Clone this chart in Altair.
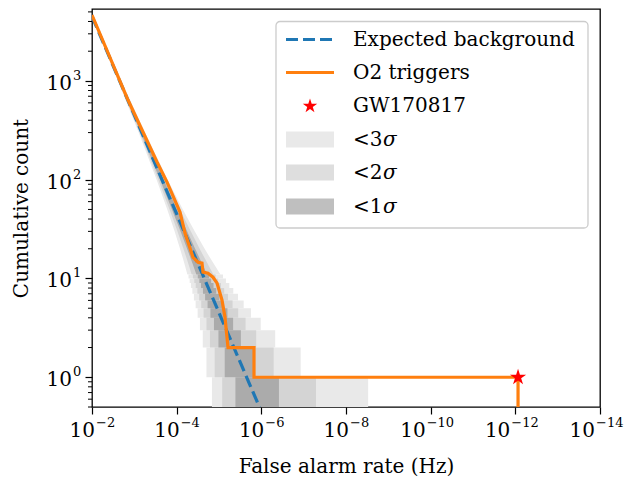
import altair as alt
import pandas as pd

# ---------------- data ----------------
x_tick_values = [1e-2, 1e-4, 1e-6, 1e-8, 1e-10, 1e-12, 1e-14]
x_tick_exponents = ["−2", "−4", "−6", "−8", "−10", "−12", "−14"]
y_major_ticks = [1, 10, 100, 1000]
y_tick_exponents = ["0", "1", "2", "3"]
y_minor_ticks = [0.5, 0.6, 0.7, 0.8, 0.9, 2, 3, 4, 5, 6, 7, 8, 9,
                 20, 30, 40, 50, 60, 70, 80, 90,
                 200, 300, 400, 500, 600, 700, 800, 900,
                 2000, 3000, 4000, 5000]

# expected background (straight line in log-log)
background_far = [1e-2, 1e-7]
background_count = [4500, 0.045]

# O2 triggers (cumulative count vs false alarm rate)
trigger_far = [1e-2, 1.41e-3, 2.91e-4, 1.69e-4, 8.34e-5, 6.35e-5, 4.11e-5,
               3.13e-5, 2.52e-5, 2.39e-5, 1.82e-5, 1.39e-5, 1.11e-5, 8.49e-6,
               7.22e-6, 6.12e-6, 1.49e-6, 1.49e-6, 8.63e-13, 8.63e-13]
trigger_count = [4650, 641, 151, 94.6, 47.0, 28.8, 16.4, 14.6, 14.3, 11.6,
                 11.3, 10.3, 8.96, 6.03, 4.05, 2.0, 2.0, 1.0, 1.0, 0.1]

# GW170817
gw_far = [8.63e-13]
gw_count = [1]

# sigma bands, low counts: one row per count
row_count_lo = [0.5, 1, 2, 3, 4, 5, 6, 7, 8, 9, 10]
row_count_hi = [1, 2, 3, 4, 5, 6, 7, 8, 9, 10, 11]
s3_left = [1.468e-5, 1.978e-5, 2.416e-5, 2.818e-5, 3.198e-5, 3.562e-5, 3.916e-5, 4.26e-5, 4.60e-5, 4.93e-5, 5.25e-5]
s2_left = [8.41e-6, 1.263e-5, 1.633e-5, 1.978e-5, 2.309e-5, 2.627e-5, 2.938e-5, 3.242e-5, 3.542e-5, 3.838e-5, 4.129e-5]
s1_left = [4.09e-6, 7.33e-6, 1.031e-5, 1.315e-5, 1.592e-5, 1.863e-5, 2.130e-5, 2.393e-5, 2.656e-5, 2.913e-5, 3.171e-5]
s1_right = [3.84e-7, 1.573e-6, 3.04e-6, 4.64e-6, 6.31e-6, 8.04e-6, 9.82e-6, 1.163e-5, 1.346e-5, 1.531e-5, 1.719e-5]
s2_right = [5.11e-8, 5.11e-7, 1.324e-6, 2.351e-6, 3.52e-6, 4.78e-6, 6.13e-6, 7.54e-6, 8.99e-6, 1.049e-5, 1.202e-5]
s3_right = [3.00e-9, 1.176e-7, 4.71e-7, 1.033e-6, 1.760e-6, 2.611e-6, 3.56e-6, 4.60e-6, 5.70e-6, 6.85e-6, 8.06e-6]

# sigma bands, high counts (narrow, drawn as smooth areas)
band_count = [11, 15, 20, 30, 50, 100, 300, 1000, 5000]
a3_left = [5.584e-5, 6.829e-5, 8.327e-5, 1.1204e-4, 1.6696e-4, 2.973e-4, 7.904e-4, 2.441e-3, 1.1587e-2]
a2_left = [4.418e-5, 5.547e-5, 6.918e-5, 9.578e-5, 1.4724e-4, 2.713e-4, 7.482e-4, 2.367e-3, 1.1427e-2]
a1_left = [3.424e-5, 4.433e-5, 5.676e-5, 8.118e-5, 1.2913e-4, 2.467e-4, 7.076e-4, 2.295e-3, 1.1271e-2]
a1_right = [1.909e-5, 2.678e-5, 3.658e-5, 5.660e-5, 9.751e-5, 2.022e-4, 6.304e-4, 2.154e-3, 1.0956e-2]
a2_right = [1.357e-5, 2.007e-5, 2.858e-5, 4.642e-5, 8.387e-5, 1.820e-4, 5.940e-4, 2.086e-3, 1.0802e-2]
a3_right = [9.23e-6, 1.459e-5, 2.185e-5, 3.753e-5, 7.153e-5, 1.633e-4, 5.593e-4, 2.0196e-3, 1.0647e-2]

legend_labels = ["Expected background", "O2 triggers", "GW170817", "<3", "<2", "<1"]

# ---------------- styling ----------------
FONT = "DejaVu Serif"
FS = 20
EFS = 13
BLUE = "#1f77b4"
ORANGE = "#ff7f0e"
C3, C2, C1 = "#e9e9e9", "#d4d4d4", "#ababab"
L3, L2, L1 = "#e9e9e9", "#dedede", "#bfbfbf"
STAR = ("M0,-1L0.2245,-0.309L0.9511,-0.309L0.3633,0.118L0.5878,0.809L0,0.382"
        "L-0.5878,0.809L-0.3633,0.118L-0.9511,-0.309L-0.2245,-0.309Z")

xscale = alt.Scale(type="log", domain=[1e-14, 1e-2], reverse=True, nice=False)
yscale = alt.Scale(type="log", domain=[0.5, 5350], nice=False)

xaxis = alt.Axis(values=x_tick_values, labels=False,
                 title="False alarm rate (Hz)", grid=False, domain=False,
                 tickSize=7, tickWidth=1.2, tickColor="black",
                 titleFont=FONT, titleFontSize=FS, titleFontWeight="normal", titleColor="black",
                 titleX=254, titleY=59, titleBaseline="middle", titleAlign="center")
yaxis = alt.Axis(values=y_major_ticks, labels=False,
                 title="Cumulative count", grid=False, domain=False,
                 tickSize=7, tickWidth=1.2, tickColor="black",
                 titleFont=FONT, titleFontSize=FS, titleFontWeight="normal", titleColor="black",
                 titleX=-65, titleY=199, titleBaseline="alphabetic", titleAlign="center",
                 titleAngle=270)

rows_df = pd.DataFrame({"lo": row_count_lo, "hi": row_count_hi,
                        "s3l": s3_left, "s2l": s2_left, "s1l": s1_left,
                        "s1r": s1_right, "s2r": s2_right, "s3r": s3_right})
area_df = pd.DataFrame({"c": band_count, "a3l": a3_left, "a2l": a2_left, "a1l": a1_left,
                        "a1r": a1_right, "a2r": a2_right, "a3r": a3_right})
bg_df = pd.DataFrame({"far": background_far, "count": background_count})
trig_df = pd.DataFrame({"far": trigger_far, "count": trigger_count,
                        "i": list(range(len(trigger_far)))})
gw_df = pd.DataFrame({"far": gw_far, "count": gw_count})
minor_df = pd.DataFrame({"v": y_minor_ticks})
xlab_df = pd.DataFrame({"v": x_tick_values, "e": x_tick_exponents})
xlab_short = xlab_df[xlab_df["e"].str.len() <= 2]
xlab_long = xlab_df[xlab_df["e"].str.len() > 2]
ylab_df = pd.DataFrame({"v": y_major_ticks, "e": y_tick_exponents})


def X(f):
    return alt.X(f, scale=xscale, axis=xaxis)


def Y(f):
    return alt.Y(f, scale=yscale, axis=yaxis)


layers = []
for (l, r, col, al, ar) in [("s3l", "s3r", C3, "a3l", "a3r"),
                            ("s2l", "s2r", C2, "a2l", "a2r"),
                            ("s1l", "s1r", C1, "a1l", "a1r")]:
    layers.append(alt.Chart(rows_df).mark_rect(color=col, clip=True, strokeWidth=0).encode(
        x=X(f"{l}:Q"), x2=f"{r}:Q", y=Y("lo:Q"), y2="hi:Q"))
    layers.append(alt.Chart(area_df).mark_area(color=col, clip=True, orient="horizontal").encode(
        x=X(f"{al}:Q"), x2=f"{ar}:Q", y=Y("c:Q")))

layers.append(alt.Chart(bg_df).mark_line(color=BLUE, strokeWidth=3.2, strokeDash=[12, 5], clip=True).encode(
    x=X("far:Q"), y=Y("count:Q")))
layers.append(alt.Chart(trig_df).mark_line(color=ORANGE, strokeWidth=3.2, clip=True).encode(
    x=X("far:Q"), y=Y("count:Q"), order="i:Q"))
layers.append(alt.Chart(gw_df).mark_point(shape=STAR, filled=True, color="red", size=290, opacity=1).encode(
    x=X("far:Q"), y=Y("count:Q")))
# minor y ticks
layers.append(alt.Chart(minor_df).mark_rule(color="black", strokeWidth=1.0).encode(
    y=Y("v:Q"), x=alt.value(-4), x2=alt.value(0)))

# tick labels: "10" with raised exponent
for sub, d in [(xlab_short, 3), (xlab_long, -5)]:
    layers.append(alt.Chart(sub).mark_text(font=FONT, fontSize=FS, align="right", baseline="alphabetic",
                                           dx=d, color="black").encode(
        x=X("v:Q"), y=alt.value(428), text=alt.value("10")))
    layers.append(alt.Chart(sub).mark_text(font=FONT, fontSize=EFS, align="left", baseline="alphabetic",
                                           dx=d + 1, color="black").encode(
        x=X("v:Q"), y=alt.value(418), text="e:N"))
layers.append(alt.Chart(ylab_df).mark_text(font=FONT, fontSize=FS, align="right", baseline="alphabetic",
                                           dy=9, color="black").encode(
    y=Y("v:Q"), x=alt.value(-20), text=alt.value("10")))
layers.append(alt.Chart(ylab_df).mark_text(font=FONT, fontSize=EFS, align="left", baseline="alphabetic",
                                           dy=-1, color="black").encode(
    y=Y("v:Q"), x=alt.value(-19), text="e:N"))

# ---------------- legend (hand-built) ----------------
one = pd.DataFrame({"d": [0]})
layers.append(alt.Chart(one).mark_rect(fill="white", fillOpacity=0.8, stroke="#cccccc",
                                       strokeWidth=1.3, cornerRadius=4).encode(
    x=alt.value(184), x2=alt.value(496), y=alt.value(12.5), y2=alt.value(219)))
row_y = [30.5, 63.5, 97, 130.5, 163.5, 197.5]
layers.append(alt.Chart(one).mark_rule(color=BLUE, strokeWidth=3.2, strokeDash=[12, 5]).encode(
    x=alt.value(194), x2=alt.value(242), y=alt.value(row_y[0])))
layers.append(alt.Chart(one).mark_rule(color=ORANGE, strokeWidth=3.2).encode(
    x=alt.value(194), x2=alt.value(242), y=alt.value(row_y[1])))
layers.append(alt.Chart(one).mark_point(shape=STAR, filled=True, color="red", size=230, opacity=1).encode(
    x=alt.value(218), y=alt.value(row_y[2])))
for yy, col in zip(row_y[3:], [L3, L2, L1]):
    layers.append(alt.Chart(one).mark_rect(color=col).encode(
        x=alt.value(194), x2=alt.value(242), y=alt.value(yy - 8), y2=alt.value(yy + 8)))
for yy, lab in zip(row_y, legend_labels):
    layers.append(alt.Chart(one).mark_text(font=FONT, fontSize=FS, align="left",
                                           baseline="middle", color="black").encode(
        x=alt.value(261), y=alt.value(yy), text=alt.value(lab)))
for yy in row_y[3:]:
    layers.append(alt.Chart(one).mark_text(font=FONT, fontSize=FS, align="left", fontStyle="italic",
                                           baseline="middle", color="black").encode(
        x=alt.value(291), y=alt.value(yy), text=alt.value("σ")))

chart = alt.layer(*layers).properties(
    width=508, height=398,
    padding={"left": 84, "top": 1, "right": 24, "bottom": 70},
    autosize=alt.AutoSizeParams(type="none"),
    background="white",
).configure_view(stroke="black", strokeWidth=1.3)

chart.save("out.html", embed_options={"renderer": "svg", "actions": False})
